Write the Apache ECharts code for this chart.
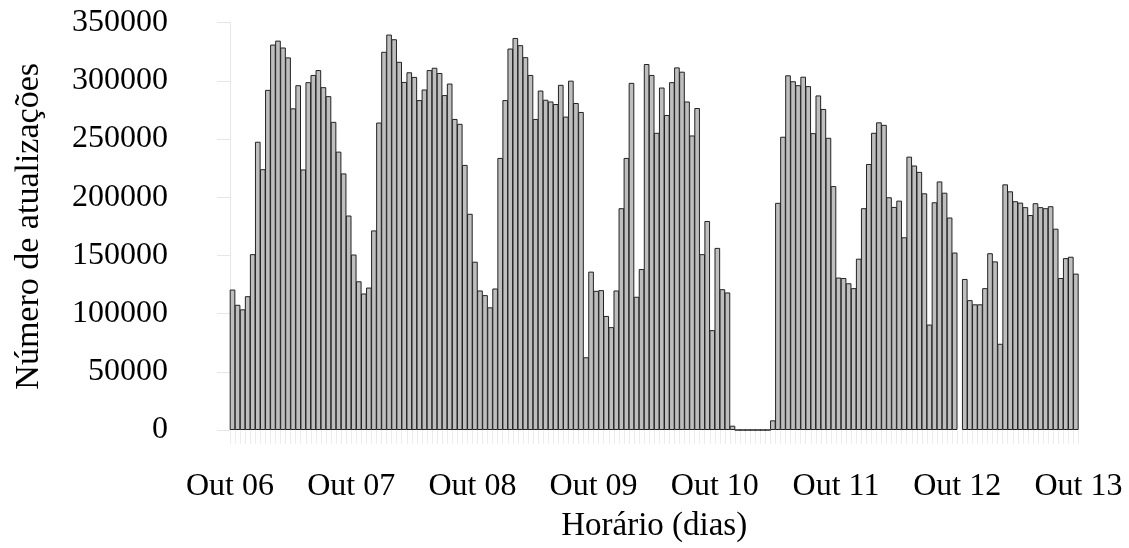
<!DOCTYPE html>
<html>
<head>
<meta charset="utf-8">
<script src="https://cdn.jsdelivr.net/npm/echarts@6/dist/echarts.min.js"></script>
<style>
html,body{margin:0;padding:0;background:#fff;}
#c{width:1129px;height:548px;}
</style>
</head>
<body>
<div id="c"></div>
<script>
// Hourly update counts, one array per day (24 hours each)
const day06 = [120700,107600,103700,115000,151100,247700,224100,292300,331200,334600,328700,320200,276400,296300,223900,298900,305100,309300,294600,286900,264800,239200,220500,184300];
const day07 = [150800,127800,117300,122400,171500,264200,325000,339800,335800,316400,299100,307400,303400,283500,292600,309300,311300,306800,287800,297700,267300,263100,227800,185800];
const day08 = [144600,119900,115900,105400,121600,233800,283500,327800,336900,330700,320400,305100,267300,291700,283800,282300,280100,296600,269300,300200,281000,273300,62500,136100];
const day09 = [119600,120200,98000,88400,119900,190600,233800,298300,114500,138300,314500,305100,255400,294300,270700,298900,311600,307900,282300,253100,276700,151100,179600,85800];
const day10 = [156500,121000,118200,3700,0,0,0,0,0,0,0,8300,195200,252000,304800,299700,296300,303600,295500,255100,287500,275900,251100,209600];
const day11 = [131000,130600,126100,121900,147200,190600,228600,255400,264400,262200,200000,191700,197100,165600,234900,227300,221800,203400,90600,195700,213600,203900,182600,152500];
const day12 = [null,129800,111600,108000,108000,121900,151900,144900,74100,211100,205100,196600,195400,191500,184700,194900,191500,190600,192300,173000,130600,147700,148900,134400];

const dayLabels = ['Out 06','Out 07','Out 08','Out 09','Out 10','Out 11','Out 12','Out 13'];
const yTicks = [0,50000,100000,150000,200000,250000,300000,350000];

const values = [].concat(day06, day07, day08, day09, day10, day11, day12);
const hours = values.map((v, i) => dayLabels[Math.floor(i / 24)] + ' ' + String(i % 24).padStart(2, '0') + 'h');

const FONT = "'Liberation Serif','Times New Roman',serif";
const chart = echarts.init(document.getElementById('c'), null, {renderer: 'canvas'});
chart.setOption({
  animation: false,
  backgroundColor: '#ffffff',
  grid: {left: 230, right: 50.6, top: 22.7, bottom: 114.7, containLabel: false},
  xAxis: [
    {
      type: 'category',
      data: hours,
      boundaryGap: true,
      offset: 15,
      axisLine: {show: false},
      axisTick: {show: true, interval: 0, length: 14, lineStyle: {color: '#ececec', width: 1}},
      axisLabel: {show: false},
      splitLine: {show: false}
    },
    {
      type: 'value',
      min: 0, max: 168, interval: 24,
      position: 'bottom',
      axisLine: {show: false},
      axisTick: {show: false},
      splitLine: {show: false},
      axisLabel: {
        margin: 41, color: '#000', fontFamily: FONT, fontSize: 32,
        formatter: v => dayLabels[Math.round(v / 24)]
      },
      name: 'Horário (dias)',
      nameLocation: 'middle',
      nameGap: 80,
      nameTextStyle: {color: '#000', fontFamily: FONT, fontSize: 33}
    }
  ],
  yAxis: {
    type: 'value',
    min: 0, max: 350000, interval: 50000,
    offset: 34,
    axisLine: {show: true, lineStyle: {color: '#e6e6e6', width: 1}},
    axisTick: {show: true, length: 13, lineStyle: {color: '#e6e6e6', width: 1}},
    splitLine: {show: false},
    axisLabel: {margin: 28, color: '#000', fontFamily: FONT, fontSize: 32,
      formatter: v => String(yTicks[yTicks.indexOf(v)])},
    name: 'Número de atualizações',
    nameLocation: 'middle',
    nameGap: 150,
    nameTextStyle: {color: '#000', fontFamily: FONT, fontSize: 34}
  },
  series: [{
    type: 'bar',
    xAxisIndex: 0,
    data: values,
    barWidth: '112%',
    itemStyle: {color: '#bebebe', borderColor: '#222222', borderWidth: 1}
  }]
});
</script>
</body>
</html>
